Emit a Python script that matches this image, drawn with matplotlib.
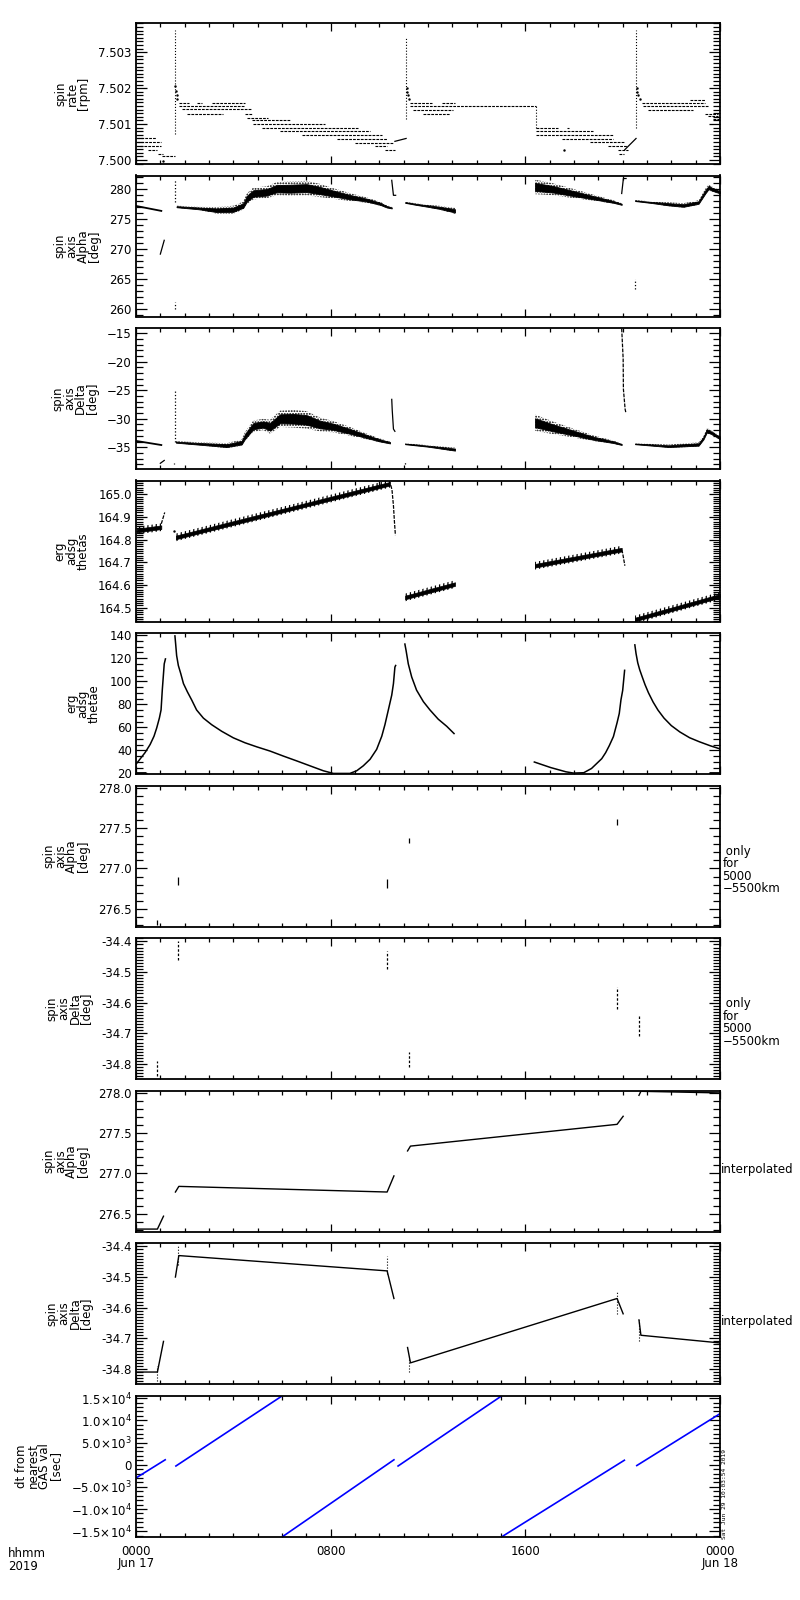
import numpy as np
import matplotlib.pyplot as plt
from matplotlib.ticker import MultipleLocator, FixedLocator, FormatStrFormatter

plt.rcParams['font.family'] = ['DejaVu Sans']
plt.rcParams['hatch.linewidth'] = 0.9
FS = 8.5

# ---------------- data (time in hours from 0000 Jun 17) ----------------
# panel 1: spin rate, quantised levels -> horizontal runs
rate_t0 = [0.03, 0.03, 0.16, 0.50, 0.92, 1.08,
           1.77, 2.49, 3.11, 1.77, 1.88, 2.08, 4.48, 4.55, 4.75, 4.82, 5.16, 5.92, 6.81, 8.24, 8.99, 9.82, 10.23,
           11.26, 12.56, 11.26, 11.40, 11.81,
           16.43, 17.70, 16.43, 16.43, 17.49, 18.66, 19.41, 19.82, 19.86,
           22.77, 20.78, 20.85, 21.06, 23.38, 23.52, 23.70]
rate_t1 = [0.82, 1.01, 1.01, 0.85, 1.12, 1.60,
           2.19, 2.70, 4.48, 4.48, 4.75, 3.56, 4.75, 5.44, 6.33, 7.76, 9.14, 9.62, 10.10, 10.30, 10.57, 10.30, 10.64,
           12.15, 13.11, 16.43, 13.04, 12.90,
           17.36, 17.81, 18.80, 19.62, 19.62, 20.09, 20.16, 20.23, 20.07,
           23.38, 23.38, 23.52, 22.91, 23.93, 23.93, 24.00]
rate_v = [7.50060, 7.50049, 7.50039, 7.50029, 7.50018, 7.50012,
          7.50159, 7.50159, 7.50159, 7.50149, 7.50142, 7.50129, 7.50129, 7.50117, 7.50110, 7.50099, 7.50088,
          7.50081, 7.50069, 7.50059, 7.50048, 7.50039, 7.50029,
          7.50159, 7.50159, 7.50149, 7.50140, 7.50129,
          7.50089, 7.50089, 7.50081, 7.50069, 7.50059, 7.50049, 7.50039, 7.50029, 7.50018,
          7.50168, 7.50159, 7.50149, 7.50140, 7.50129, 7.50122, 7.50113]
rate_spike_t = [1.60, 11.10, 16.43, 20.55]
rate_spike_hi = [7.50362, 7.50342, 7.50149, 7.50362]
rate_spike_lo = [7.50073, 7.50113, 7.50089, 7.50090]
rate_decay_t = [1.62, 1.64, 1.67, 1.70, 11.12, 11.15, 11.19, 11.23, 20.57, 20.60, 20.64, 20.70]
rate_decay_v = [7.50205, 7.50192, 7.50180, 7.50170, 7.50200, 7.50189, 7.50180, 7.50170, 7.50200, 7.50190, 7.50180, 7.50170]
rate_ramp1_t = [10.64, 11.10]
rate_ramp1_v = [7.50052, 7.50060]
rate_ramp2_t = [20.09, 20.55]
rate_ramp2_v = [7.50029, 7.50060]
rate_dot_t = [1.10, 17.59]
rate_dot_v = [7.49998, 7.50029]

# panel 2: spin axis Alpha [deg]  (centre and half width of noisy band)
alpha_a_t = [0.03, 1.04]
alpha_a_v = [277.2, 276.4]
alpha_b_t = [1.00, 1.16]
alpha_b_v = [269.2, 271.5]
alpha_c_t = [1.67, 2.63, 3.31, 4.00, 4.41, 4.55, 4.82, 5.37, 5.78, 6.33, 7.01, 7.56, 8.11, 8.79, 9.48, 10.03, 10.30, 10.51]
alpha_c_v = [277.1, 276.8, 276.5, 276.6, 277.3, 278.4, 279.3, 279.5, 280.1, 280.1, 280.2, 279.8, 279.3, 278.7, 278.2, 277.6, 277.1, 276.9]
alpha_c_w = [0.15, 0.25, 0.5, 0.6, 0.6, 0.8, 0.9, 0.9, 1.0, 1.1, 1.1, 1.0, 0.8, 0.6, 0.4, 0.3, 0.2, 0.15]
alpha_d_t = [10.51, 10.58, 10.67]
alpha_d_v = [281.5, 279.0, 279.0]
alpha_e_t = [11.06, 11.50, 12.00, 12.50, 13.11]
alpha_e_v = [277.8, 277.5, 277.2, 276.9, 276.4]
alpha_e_w = [0.1, 0.15, 0.2, 0.3, 0.45]
alpha_f_t = [16.40, 17.15, 17.97, 18.80, 19.62, 19.96]
alpha_f_v = [280.4, 280.0, 279.3, 278.6, 277.9, 277.5]
alpha_f_w = [1.1, 0.9, 0.7, 0.45, 0.25, 0.15]
alpha_g_t = [19.96, 20.03, 20.14]
alpha_g_v = [279.3, 281.8, 281.8]
alpha_h_t = [20.51, 21.20, 21.89, 22.50, 23.12, 23.40, 23.53, 23.74, 24.00]
alpha_h_v = [278.1, 277.8, 277.5, 277.3, 277.8, 279.6, 280.3, 279.9, 279.5]
alpha_h_w = [0.1, 0.15, 0.3, 0.35, 0.35, 0.45, 0.45, 0.35, 0.3]
alpha_tick_t = [1.60, 1.60, 20.52]
alpha_tick_hi = [281.5, 261.2, 265.0]
alpha_tick_lo = [277.9, 260.0, 263.4]

# panel 3: spin axis Delta [deg]
delta_a_t = [0.03, 1.04]
delta_a_v = [-33.9, -34.6]
delta_b_t = [1.00, 1.16]
delta_b_v = [-37.8, -37.3]
delta_c_t = [1.64, 2.63, 3.73, 4.34, 4.48, 4.82, 5.23, 5.51, 5.92, 6.47, 7.01, 7.56, 8.11, 8.79, 9.48, 10.03, 10.44]
delta_c_v = [-34.1, -34.4, -34.7, -34.2, -33.1, -31.3, -31.0, -31.4, -30.0, -30.0, -30.2, -31.0, -31.4, -32.2, -33.1, -33.8, -34.2]
delta_c_w = [0.15, 0.25, 0.4, 0.5, 0.7, 0.9, 0.9, 1.1, 1.3, 1.4, 1.4, 1.1, 0.9, 0.7, 0.45, 0.3, 0.2]
delta_d_t = [10.51, 10.53, 10.58, 10.64]
delta_d_v = [-26.6, -28.5, -31.8, -32.2]
delta_e_t = [11.06, 12.00, 13.11]
delta_e_v = [-34.4, -34.8, -35.4]
delta_e_w = [0.1, 0.15, 0.3]
delta_f_t = [16.40, 17.15, 17.97, 18.79, 19.62, 19.96]
delta_f_v = [-30.7, -31.6, -32.5, -33.4, -34.1, -34.5]
delta_f_w = [1.3, 1.0, 0.7, 0.45, 0.25, 0.15]
delta_g_t = [19.96, 20.02, 20.03, 20.10, 20.13]
delta_g_v = [-14.2, -19.5, -24.8, -28.3, -28.9]
delta_h_t = [20.51, 21.89, 23.12, 23.32, 23.46, 23.67, 24.00]
delta_h_v = [-34.4, -34.8, -34.5, -33.4, -32.1, -32.5, -33.4]
delta_h_w = [0.1, 0.25, 0.35, 0.35, 0.45, 0.35, 0.3]
delta_tick_t = [1.60, 1.57, 11.06]
delta_tick_hi = [-25.1, -37.7, -37.6]
delta_tick_lo = [-34.0, -38.0, -37.9]

# panel 4: erg adsg thetas
ts_a_t = [0.03, 1.04]
ts_a_v = [164.840, 164.855]
ts_b_t = [1.04, 1.18]
ts_b_v = [164.870, 164.920]
ts_c_t = [1.64, 10.44]
ts_c_v = [164.810, 165.047]
ts_d_t = [10.47, 10.52, 10.58, 10.62, 10.66]
ts_d_v = [165.040, 165.020, 164.950, 164.880, 164.820]
ts_e_t = [11.06, 13.11]
ts_e_v = [164.545, 164.604]
ts_f_t = [16.40, 19.96]
ts_f_v = [164.685, 164.756]
ts_g_t = [19.96, 20.00, 20.09]
ts_g_v = [164.756, 164.740, 164.685]
ts_h_t = [20.51, 24.00]
ts_h_v = [164.448, 164.552]

# panel 5: erg adsg thetae
te_a_t = [0.00, 0.16, 0.37, 0.58, 0.74, 0.85, 0.96, 1.03, 1.08, 1.12, 1.16, 1.21]
te_a_v = [28.0, 32.3, 38.0, 45.1, 52.3, 59.4, 68.0, 75.1, 92.3, 103.7, 115.1, 119.4]
te_b_t = [1.60, 1.63, 1.67, 1.74, 1.84, 1.95, 2.11, 2.29, 2.49, 2.77, 3.11, 3.52, 4.00, 4.48, 4.96, 5.51, 6.05,
          6.60, 7.15, 7.70, 8.11, 8.79, 9.07, 9.34, 9.62, 9.89, 10.10, 10.23, 10.37, 10.51, 10.58, 10.64, 10.67]
te_b_v = [139.4, 132.3, 122.3, 113.7, 106.6, 98.0, 90.9, 83.7, 75.1, 68.0, 62.3, 56.6, 50.9, 46.6, 43.1, 39.4, 35.1,
          30.9, 26.6, 22.3, 20.0, 20.0, 22.3, 26.6, 32.3, 40.9, 52.3, 62.3, 75.1, 88.0, 98.0, 112.3, 113.7]
te_c_t = [11.05, 11.10, 11.19, 11.33, 11.53, 11.81, 12.08, 12.42, 12.77, 13.07]
te_c_v = [132.3, 126.6, 115.1, 103.7, 92.3, 82.3, 75.1, 67.1, 60.9, 54.6]
te_d_t = [16.37, 17.04, 17.67, 17.98, 18.40, 18.72, 19.14, 19.30, 19.45, 19.62, 19.77, 19.86, 19.93, 20.00, 20.08]
te_d_v = [29.9, 25.1, 21.4, 20.3, 20.6, 24.3, 32.8, 38.0, 44.1, 52.0, 64.0, 72.0, 83.9, 92.0, 109.5]
te_e_t = [20.50, 20.55, 20.62, 20.70, 20.80, 20.92, 21.06, 21.25, 21.45, 21.70, 22.00, 22.35, 22.75, 23.15, 23.60, 24.00]
te_e_v = [131.6, 124.0, 116.0, 110.0, 104.0, 97.0, 90.0, 82.0, 75.0, 68.0, 61.5, 56.0, 51.0, 47.5, 44.0, 41.3]
te_floor_t0 = [0.00, 23.55]
te_floor_t1 = [0.40, 24.00]

# panels 6/7: values only for 5000-5500 km (short vertical runs)
oa_t = [0.88, 1.72, 10.32, 11.23, 19.77]
oa_hi = [276.36, 276.89, 276.87, 277.38, 277.62]
oa_lo = [276.30, 276.80, 276.76, 277.32, 277.54]
od_t = [0.88, 1.72, 10.32, 11.23, 19.77, 20.67]
od_hi = [-34.79, -34.40, -34.43, -34.76, -34.55, -34.64]
od_lo = [-34.84, -34.46, -34.49, -34.81, -34.62, -34.71]

# panel 8: Alpha interpolated
ia_t = [0.00, 0.88, 1.13, None, 1.62, 1.76, 10.32, 10.60, None, 11.16, 11.28, 19.77, 20.02, None, 20.67, 20.75, 24.00]
ia_v = [276.31, 276.31, 276.47, None, 276.77, 276.84, 276.77, 276.97, None, 277.28, 277.34, 277.61, 277.71, None,
        277.97, 278.02, 278.00]
# panel 9: Delta interpolated
id_t = [0.00, 0.88, 1.13, None, 1.62, 1.76, 10.32, 10.60, None, 11.16, 11.28, 19.77, 20.02, None, 20.67, 20.75, 24.00]
id_v = [-34.81, -34.81, -34.71, None, -34.50, -34.43, -34.48, -34.57, None, -34.73, -34.78, -34.57, -34.62, None,
        -34.64, -34.69, -34.715]

# panel 10: dt from nearest GAS val [sec]
dt_t0 = [0.00, 1.64, 6.03, 10.77, 15.05, 20.58]
dt_t1 = [1.20, 6.03, 10.60, 15.05, 20.07, 24.00]
dt_v0 = [-3000, -300, -16200, -300, -16200, -200]
dt_v1 = [1100, 15600, 1100, 15600, 1000, 11500]

labels = ['spin\nrate\n[rpm]', 'spin\naxis\nAlpha\n[deg]', 'spin\naxis\nDelta\n[deg]', 'erg\nadsg\nthetas',
          'erg\nadsg\nthetae', 'spin\naxis\nAlpha\n[deg]', 'spin\naxis\nDelta\n[deg]', 'spin\naxis\nAlpha\n[deg]',
          'spin\naxis\nDelta\n[deg]', 'dt from\nnearest\nGAS val\n[sec]']

# ---------------- figure ----------------
fig = plt.figure(figsize=(8, 16), dpi=100)
W, H = 800.0, 1600.0
axs = []
for i in range(10):
    top = 23 + 152.5 * i
    ax = fig.add_axes([136 / W, 1 - (top + 141) / H, 584 / W, 141 / H])
    axs.append(ax)

K = 'k'
lw = 0.9

def band(ax, t, v, w, hatch='......'):
    v = np.array(v); w = np.array(w)
    ax.fill_between(t, v - w * 1.1, v + w * 1.1, facecolor='none', edgecolor=K, hatch=hatch, lw=0)
    ax.fill_between(t, v - w * 0.6, v + w * 0.6, color=K, lw=0.6)

# panel 1
ax = axs[0]
ax.hlines(rate_v, rate_t0, rate_t1, colors=K, lw=0.8, linestyles=(0, (2.5, 1)))
ax.vlines(rate_spike_t, rate_spike_lo, rate_spike_hi, colors=K, lw=0.8, linestyles=':')
ax.plot(rate_decay_t, rate_decay_v, 'k.', ms=1.5)
ax.plot(rate_ramp1_t, rate_ramp1_v, color=K, lw=lw)
ax.plot(rate_ramp2_t, rate_ramp2_v, color=K, lw=lw)
ax.plot(rate_dot_t, rate_dot_v, 'k.', ms=1.5)
ax.set_ylim(7.49989, 7.50381)
ax.yaxis.set_major_locator(MultipleLocator(0.001))
ax.yaxis.set_minor_locator(MultipleLocator(0.0001))
ax.yaxis.set_major_formatter(FormatStrFormatter('%.3f'))

# panel 2
ax = axs[1]
ax.plot(alpha_a_t, alpha_a_v, color=K, lw=1.3)
ax.plot(alpha_b_t, alpha_b_v, color=K, lw=lw)
band(ax, alpha_c_t, alpha_c_v, alpha_c_w)
ax.plot(alpha_d_t, alpha_d_v, color=K, lw=lw)
band(ax, alpha_e_t, alpha_e_v, alpha_e_w)
band(ax, alpha_f_t, alpha_f_v, alpha_f_w)
ax.plot(alpha_g_t, alpha_g_v, color=K, lw=lw)
band(ax, alpha_h_t, alpha_h_v, alpha_h_w)
ax.vlines(alpha_tick_t, alpha_tick_lo, alpha_tick_hi, colors=K, lw=0.9, linestyles=':')
ax.set_ylim(258.8, 282.3)
ax.yaxis.set_major_locator(MultipleLocator(5))
ax.yaxis.set_minor_locator(MultipleLocator(1))

# panel 3
ax = axs[2]
ax.plot(delta_a_t, delta_a_v, color=K, lw=1.3)
ax.plot(delta_b_t, delta_b_v, color=K, lw=lw)
band(ax, delta_c_t, delta_c_v, delta_c_w)
ax.plot(delta_d_t, delta_d_v, color=K, lw=lw)
band(ax, delta_e_t, delta_e_v, delta_e_w)
band(ax, delta_f_t, delta_f_v, delta_f_w)
ax.plot(delta_g_t, delta_g_v, color=K, lw=lw, ls=(0, (3, 1)))
band(ax, delta_h_t, delta_h_v, delta_h_w)
ax.vlines(delta_tick_t, delta_tick_lo, delta_tick_hi, colors=K, lw=0.9, linestyles=':')
ax.set_ylim(-38.8, -14.1)
ax.yaxis.set_major_locator(MultipleLocator(5))
ax.yaxis.set_minor_locator(MultipleLocator(1))

# panel 4
ax = axs[3]
for t, v in [(ts_a_t, ts_a_v), (ts_c_t, ts_c_v), (ts_e_t, ts_e_v), (ts_f_t, ts_f_v), (ts_h_t, ts_h_v)]:
    v = np.array(v)
    ax.fill_between(t, v - 0.017, v + 0.017, facecolor='none', edgecolor=K, hatch='||||', lw=0)
    ax.fill_between(t, v - 0.008, v + 0.008, color=K, lw=0.5)
for t, v in [(ts_b_t, ts_b_v), (ts_d_t, ts_d_v), (ts_g_t, ts_g_v)]:
    ax.plot(t, v, color=K, lw=lw, ls=(0, (3, 1)))
ax.plot([1.57], [164.84], 'k.', ms=1.5)
ax.set_ylim(164.439, 165.061)
ax.yaxis.set_major_locator(MultipleLocator(0.1))
ax.yaxis.set_minor_locator(MultipleLocator(0.01))
ax.yaxis.set_major_formatter(FormatStrFormatter('%.1f'))

# panel 5
ax = axs[4]
for t, v in [(te_a_t, te_a_v), (te_b_t, te_b_v), (te_c_t, te_c_v), (te_d_t, te_d_v), (te_e_t, te_e_v)]:
    ax.plot(t, v, color=K, lw=1.1)
ax.hlines([20] * len(te_floor_t0), te_floor_t0, te_floor_t1, colors=K, lw=2)
ax.set_ylim(19.5, 141.9)
ax.yaxis.set_major_locator(MultipleLocator(20))
ax.yaxis.set_minor_locator(MultipleLocator(5))

# panel 6, 7
ax = axs[5]
ax.vlines(oa_t, oa_lo, oa_hi, colors=K, lw=0.9)
ax.set_ylim(276.28, 278.03)
ax.yaxis.set_major_locator(MultipleLocator(0.5))
ax.yaxis.set_minor_locator(MultipleLocator(0.1))
ax.yaxis.set_major_formatter(FormatStrFormatter('%.1f'))
ax = axs[6]
ax.vlines(od_t, od_lo, od_hi, colors=K, lw=0.9, linestyles=(0, (2, 1.5)))
ax.set_ylim(-34.849, -34.389)
ax.yaxis.set_major_locator(MultipleLocator(0.1))
ax.yaxis.set_minor_locator(MultipleLocator(0.01))
ax.yaxis.set_major_formatter(FormatStrFormatter('%.1f'))

# panel 8, 9
ax = axs[7]
ax.plot([np.nan if t is None else t for t in ia_t], [np.nan if v is None else v for v in ia_v], color=K, lw=1.0)
ax.set_ylim(276.28, 278.03)
ax.yaxis.set_major_locator(MultipleLocator(0.5))
ax.yaxis.set_minor_locator(MultipleLocator(0.1))
ax.yaxis.set_major_formatter(FormatStrFormatter('%.1f'))
ax = axs[8]
ax.plot([np.nan if t is None else t for t in id_t], [np.nan if v is None else v for v in id_v], color=K, lw=1.0)
ax.vlines(od_t, od_lo, od_hi, colors=K, lw=0.8, linestyles=':')
ax.set_ylim(-34.849, -34.389)
ax.yaxis.set_major_locator(MultipleLocator(0.1))
ax.yaxis.set_minor_locator(MultipleLocator(0.01))
ax.yaxis.set_major_formatter(FormatStrFormatter('%.1f'))

# panel 10
ax = axs[9]
for a, b, c, d in zip(dt_t0, dt_t1, dt_v0, dt_v1):
    ax.plot([a, b], [c, d], color='#0000ff', lw=1.2)
ax.set_ylim(-16200, 15600)
ax.yaxis.set_major_locator(FixedLocator([-15000, -10000, -5000, 0, 5000, 10000, 15000]))
ax.yaxis.set_minor_locator(MultipleLocator(1000))
ax.set_yticklabels([r'$-1.5\!\times\!10^{4}$', r'$-1.0\!\times\!10^{4}$', r'$-5.0\!\times\!10^{3}$', '0',
                    r'$5.0\!\times\!10^{3}$', r'$1.0\!\times\!10^{4}$', r'$1.5\!\times\!10^{4}$'])

for i, ax in enumerate(axs):
    ax.set_xlim(0, 24)
    ax.xaxis.set_major_locator(FixedLocator([0, 8, 16, 24]))
    ax.xaxis.set_minor_locator(MultipleLocator(1))
    ax.tick_params(axis='both', which='both', direction='in', top=True, right=True, labelsize=FS, width=0.9)
    ax.tick_params(axis='y', which='major', length=8, pad=3)
    ax.tick_params(axis='y', which='minor', length=5)
    ax.tick_params(axis='x', which='major', length=6)
    ax.tick_params(axis='x', which='minor', length=3)
    for s in ax.spines.values():
        s.set_linewidth(1.3)
    ax.set_ylabel(labels[i], fontsize=FS, linespacing=0.85, labelpad=6)
    if i < 9:
        ax.set_xticklabels([])
    else:
        ax.set_xticklabels(['0000\nJun 17', '0800', '1600', '0000\nJun 18'], fontsize=FS, linespacing=0.95)
        ax.tick_params(axis='x', which='major', pad=6)

for i in (5, 6):
    axs[i].text(1.004, 0.40, ' only\nfor\n5000\n\u22125500km', transform=axs[i].transAxes, fontsize=FS,
                ha='left', va='center', linespacing=0.95)
for i in (7, 8):
    axs[i].text(1.002, 0.44, 'interpolated', transform=axs[i].transAxes, fontsize=FS, ha='left', va='center')

fig.text(8 / W, 1 - 1547 / H, 'hhmm\n2019', fontsize=FS, ha='left', va='top', linespacing=0.95)
fig.text(722 / W, 1 - 1539 / H, 'Sat Jun 29 10:03:54 2019', fontsize=4.5, family='DejaVu Sans Mono',
         rotation=90, ha='left', va='bottom')

fig.savefig('out.png', dpi=100, facecolor='white')
